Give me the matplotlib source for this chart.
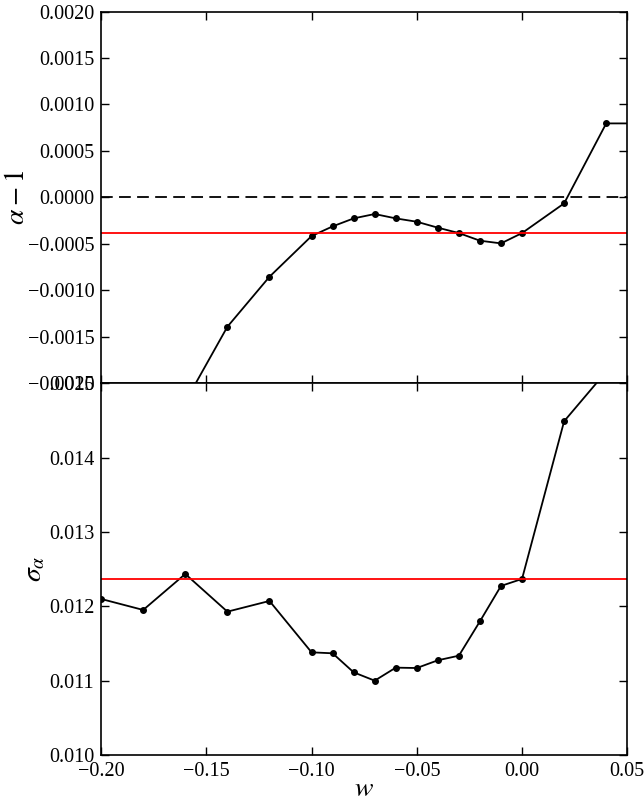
import numpy as np
import matplotlib
matplotlib.use('Agg')
import matplotlib.pyplot as plt
from matplotlib.ticker import FuncFormatter

plt.rcParams['font.family'] = ['Liberation Serif', 'DejaVu Serif']
plt.rcParams['mathtext.fontset'] = 'stix'

# w grid of the scan
w = [-0.20, -0.18, -0.16, -0.14, -0.12, -0.10, -0.09, -0.08, -0.07, -0.06,
     -0.05, -0.04, -0.03, -0.02, -0.01, 0.00, 0.02, 0.04, 0.06]

# best-fit alpha - 1 for each w
alpha_m1 = [-0.0036, -0.0030, -0.0022, -0.001392, -0.000854, -0.000416,
            -0.000312, -0.000226, -0.000179, -0.000226, -0.000262,
            -0.000326, -0.000384, -0.000466, -0.000495, -0.000384,
            -0.0000646, 0.000796, 0.000796]

# uncertainty on alpha for each w
sigma_alpha = [0.012099, 0.011951, 0.012435, 0.011928, 0.012072, 0.011381,
               0.011368, 0.011112, 0.011000, 0.011175, 0.011170, 0.011274,
               0.011336, 0.011798, 0.012274, 0.012368, 0.014489, 0.015157,
               0.01560]

# reference values at w = 0
i0 = w.index(0.00)
alpha_ref = alpha_m1[i0]
sigma_ref = sigma_alpha[i0]


def fmt(ndec):
    def f(v, pos):
        s = f'{v:.{ndec}f}'
        if float(s) == 0:
            s = s.lstrip('-')
        return s.replace('-', '\u2212')
    return FuncFormatter(f)


fig, (ax1, ax2) = plt.subplots(2, 1, figsize=(6.44, 8.05), dpi=100, sharex=True)
fig.subplots_adjust(left=0.157, right=0.974, top=0.9857, bottom=0.0621, hspace=0)

ax1.plot(w, alpha_m1, '-o', color='k', lw=1.3, ms=4, mec='k')
ax1.axhline(0.0, color='k', ls=(0, (6.5, 3.5)), lw=1.3)
ax1.axhline(alpha_ref, color='r', lw=1.3)
ax1.set_ylim(-0.0020, 0.0020)
ax1.set_yticks(np.arange(-0.0020, 0.00201, 0.0005))
ax1.yaxis.set_major_formatter(fmt(4))
ax1.set_ylabel(r'$\alpha - 1$', fontsize=20, va='center')
ax1.yaxis.set_label_coords(-0.158, 0.5)

ax2.plot(w, sigma_alpha, '-o', color='k', lw=1.3, ms=4, mec='k')
ax2.axhline(sigma_ref, color='r', lw=1.3)
ax2.set_ylim(0.010, 0.015)
ax2.set_yticks(np.arange(0.010, 0.01501, 0.001))
ax2.yaxis.set_major_formatter(fmt(3))
ax2.set_ylabel(r'$\sigma_\alpha$', fontsize=20, va='center')
ax2.yaxis.set_label_coords(-0.125, 0.5)

ax2.set_xlim(-0.20, 0.05)
ax2.set_xticks(np.arange(-0.20, 0.0501, 0.05))
ax2.xaxis.set_major_formatter(fmt(2))
ax2.set_xlabel(r'$w$', fontsize=20, va='center')
ax2.xaxis.set_label_coords(0.5, -0.094)

for ax in (ax1, ax2):
    ax.tick_params(direction='in', top=True, right=True, length=6, width=1,
                   labelsize=14.5, pad=5)
    for s in ax.spines.values():
        s.set_linewidth(1.2)

fig.savefig('out.png', dpi=100)
